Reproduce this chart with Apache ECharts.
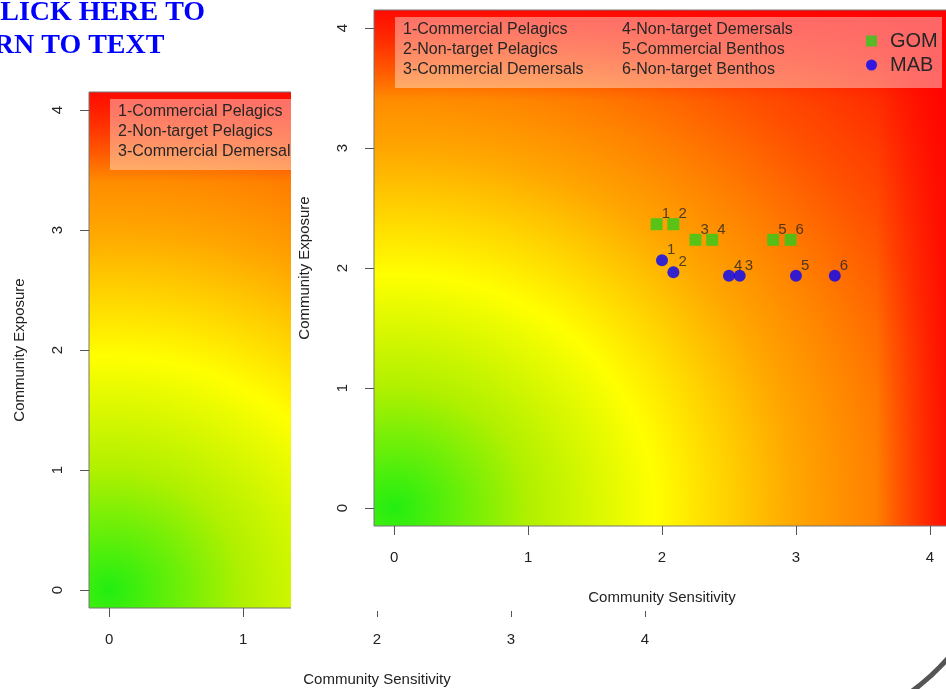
<!DOCTYPE html>
<html>
<head>
<meta charset="utf-8">
<script src="https://cdn.jsdelivr.net/npm/echarts@6/dist/echarts.min.js"></script>
<style>
html,body{margin:0;padding:0;background:#fff;width:946px;height:689px;overflow:hidden;}
#back{position:absolute;left:0;top:0;width:946px;height:689px;}
#front{position:absolute;left:291px;top:0;width:655px;height:611px;background:#fff;}
</style>
</head>
<body>
<div id="back"></div>
<div id="front"></div>
<script>
// ---- data ----
const groupNames = ['Commercial Pelagics','Non-target Pelagics','Commercial Demersals','Non-target Demersals','Commercial Benthos','Non-target Benthos'];
const pointLabels = ['1','2','3','4','5','6'];
const seriesNames = ['GOM','MAB'];
const gomSensitivity = [1.96, 2.085, 2.25, 2.375, 2.83, 2.96];
const gomExposure    = [2.365, 2.365, 2.235, 2.235, 2.235, 2.235];
const mabSensitivity = [2.0, 2.085, 2.58, 2.5, 3.0, 3.29];
const mabExposure    = [2.065, 1.965, 1.935, 1.935, 1.935, 1.935];
const axisTicks = [0, 1, 2, 3, 4];
const xTitle = 'Community Sensitivity';
const yTitle = 'Community Exposure';
const headerLines = ['CLICK HERE TO', 'RETURN TO TEXT'];

// ---- styling ----
const AX_MIN = -0.15, AX_MAX = 4.15;
const FONT = '"Liberation Sans", Arial, sans-serif';
const GRAD_R = 5.5;
const radialStops = [[0, '#22ee11'], [1, '#b0f000'], [1.95, '#ffff00'], [3.0, '#ffa600'],
                     [3.6, '#ff8000'], [4.3, '#ff5000'], [5.5, '#ff1000']];
const redFade = [{offset: 0, color: 'rgba(255,0,0,0)'}, {offset: 1, color: 'rgba(255,0,0,0.88)'}];

function buildOption(g, extra) {
  const span = AX_MAX - AX_MIN;
  const pxX = g.width / span, pxY = g.height / span;
  const ox = g.left + (0 - AX_MIN) * pxX;
  const oy = g.top + (AX_MAX - 0) * pxY;
  const local = {x: ox, y: oy, scaleX: pxX, scaleY: pxY, silent: true};
  const graphics = [
    Object.assign({type: 'rect', z: -10,
      shape: {x: AX_MIN, y: -AX_MAX, width: span, height: span},
      style: {fill: {type: 'radial', x: 0, y: 0, r: GRAD_R, global: true,
        colorStops: radialStops.map(s => ({offset: s[0] / GRAD_R, color: s[1]}))}}}, local),
    Object.assign({type: 'rect', z: -9,
      shape: {x: 3.6, y: -AX_MAX, width: AX_MAX - 3.6, height: span},
      style: {fill: {type: 'linear', x: 0, y: 0, x2: 1, y2: 0, colorStops: redFade}}}, local),
    Object.assign({type: 'rect', z: -9,
      shape: {x: AX_MIN, y: -AX_MAX, width: span, height: AX_MAX - 3.4},
      style: {fill: {type: 'linear', x: 0, y: 1, x2: 0, y2: 0, colorStops: redFade}}}, local),
    {
      type: 'rect', z: 1, silent: true,
      shape: {x: g.left + 21, y: g.top + 7, width: 547, height: 71},
      style: {fill: 'rgba(255,255,255,0.4)'}
    }
  ];
  groupNames.forEach((n, i) => {
    const col = Math.floor(i / 3), row = i % 3;
    graphics.push({
      type: 'text', z: 2, silent: true,
      x: g.left + 29 + col * 219, y: g.top + 20 + row * 20,
      style: {text: (i + 1) + '-' + n, font: '16px ' + FONT, fill: '#262626', verticalAlign: 'middle'}
    });
  });
  (extra || []).forEach(e => graphics.push(e));

  const axisCommon = {
    type: 'value', min: AX_MIN, max: AX_MAX,
    splitLine: {show: false},
    axisLine: {show: false, onZero: false},
    axisTick: {show: true, length: 9, customValues: axisTicks, lineStyle: {color: '#555', width: 1}},
    nameLocation: 'middle',
    nameTextStyle: {fontSize: 15, color: '#222', fontFamily: FONT}
  };
  const labelFormatter = p => p.data[2];
  return {
    animation: false,
    grid: {left: g.left, top: g.top, width: g.width, height: g.height, show: true,
           outerBoundsMode: 'none', containLabel: false,
           borderColor: '#777', borderWidth: 1, backgroundColor: 'transparent'},
    xAxis: Object.assign({}, axisCommon, {
      name: xTitle, nameGap: 64,
      axisLabel: {customValues: axisTicks, margin: 24, fontSize: 15, color: '#222', fontFamily: FONT}
    }),
    yAxis: Object.assign({}, axisCommon, {
      name: yTitle, nameGap: 62,
      axisLabel: {customValues: axisTicks, margin: 24, rotate: 90, fontSize: 15, color: '#222', fontFamily: FONT}
    }),
    legend: {
      orient: 'vertical', left: g.left + 487, top: g.top + 16,
      itemWidth: 11, itemHeight: 11, itemGap: 4,
      textStyle: {fontSize: 20, color: '#262626', fontFamily: FONT, padding: [0, 0, 0, 8]},
      data: [{name: seriesNames[0], icon: 'rect'}, {name: seriesNames[1], icon: 'circle'}]
    },
    graphic: graphics,
    series: [
      {
        name: seriesNames[0], type: 'scatter', symbol: 'rect', symbolSize: 12, z: 3,
        itemStyle: {color: '#2ecc1a'},
        label: {show: true, position: 'right', distance: 0, offset: [-1, -10], formatter: labelFormatter,
                fontSize: 15, color: '#262626', fontFamily: FONT},
        data: gomSensitivity.map((x, i) => [x, gomExposure[i], pointLabels[i]])
      },
      {
        name: seriesNames[1], type: 'scatter', symbol: 'circle', symbolSize: 12, z: 3,
        itemStyle: {color: '#0000ff'},
        label: {show: true, position: 'right', distance: 0, offset: [-1, -10], formatter: labelFormatter,
                fontSize: 15, color: '#262626', fontFamily: FONT},
        data: mabSensitivity.map((x, i) => [x, mabExposure[i], pointLabels[i]])
      }
    ]
  };
}

const headerFont = 'bold 28px "Liberation Serif", "Times New Roman", serif';
const backExtra = [
  {type: 'text', z: 5, silent: true, x: -20, y: 13,
   style: {text: headerLines[0], font: headerFont, fill: '#0000ff', verticalAlign: 'middle'}},
  {type: 'text', z: 5, silent: true, x: -84, y: 46,
   style: {text: headerLines[1], font: headerFont, fill: '#0000ff', verticalAlign: 'middle'}},
  {type: 'bezierCurve', z: 5, silent: true,
   shape: {x1: 908, y1: 694, x2: 950, y2: 656, cpx1: 930, cpy1: 679},
   style: {stroke: '#555', lineWidth: 5, fill: null}}
];

const backChart = echarts.init(document.getElementById('back'), null, {renderer: 'canvas'});
backChart.setOption(buildOption({left: 89, top: 92, width: 576, height: 516}, backExtra));

const frontChart = echarts.init(document.getElementById('front'), null, {renderer: 'canvas'});
frontChart.setOption(buildOption({left: 83, top: 10, width: 576, height: 516}, []));
</script>
</body>
</html>
